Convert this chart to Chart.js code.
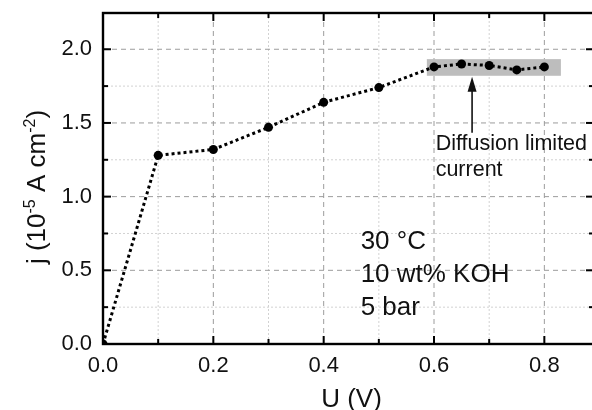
<!DOCTYPE html>
<html>
<head>
<meta charset="utf-8">
<script src="https://cdn.jsdelivr.net/npm/chart.js@4/dist/chart.umd.min.js"></script>
<style>
    html, body { margin: 0; padding: 0; background: #fff; overflow: hidden; }
    #wrap { width: 600px; height: 410px; position: relative; }
</style>
</head>
<body>
<div id="wrap"><canvas id="chart"></canvas></div>
<script>
// measured current density vs cell voltage
const voltages = [0, 0.1, 0.2, 0.3, 0.4, 0.5, 0.6, 0.65, 0.7, 0.75, 0.8]
const currents = [0, 1.28, 1.32, 1.47, 1.64, 1.74, 1.88, 1.90, 1.89, 1.86, 1.88]

const xTicks = [0, 0.2, 0.4, 0.6, 0.8]
const xMinor = [0.1, 0.3, 0.5, 0.7]
const yTicks = [0, 0.5, 1.0, 1.5, 2.0]
const yMinor = [0.25, 0.75, 1.25, 1.75]

const conditions = ['30 °C', '10 wt% KOH', '5 bar']
const noteLines = ['Diffusion limited', 'current']

const FONT = '"Liberation Sans", Arial, sans-serif'
const INK = '#111'

// plateau region highlighted by the grey band
const plateau = { x0: 0.587, x1: 0.83, y0: 1.82, y1: 1.933 }

function line(ctx, x1, y1, x2, y2) {
    ctx.beginPath()
    ctx.moveTo(x1, y1)
    ctx.lineTo(x2, y2)
    ctx.stroke()
}

const framePlugin = {
    id: 'frame',
    beforeDatasetsDraw(chart) {
        const { ctx, chartArea: a, scales: { x, y } } = chart
        ctx.save()
        ctx.lineWidth = 1
        // minor grid, light dotted
        ctx.strokeStyle = '#d2d2d2'
        ctx.setLineDash([2, 2])
        xMinor.forEach(v => line(ctx, x.getPixelForValue(v), a.top, x.getPixelForValue(v), a.bottom))
        yMinor.forEach(v => line(ctx, a.left, y.getPixelForValue(v), a.right, y.getPixelForValue(v)))
        // major grid, dashed
        ctx.strokeStyle = '#9c9c9c'
        ctx.setLineDash([5, 4])
        xTicks.slice(1).forEach(v => line(ctx, x.getPixelForValue(v), a.top, x.getPixelForValue(v), a.bottom))
        yTicks.slice(1).forEach(v => line(ctx, a.left, y.getPixelForValue(v), a.right, y.getPixelForValue(v)))
        ctx.setLineDash([])

        // grey band behind the plateau points
        const bx = x.getPixelForValue(plateau.x0)
        const by = y.getPixelForValue(plateau.y1)
        ctx.fillStyle = '#bdbdbd'
        ctx.fillRect(bx, by, x.getPixelForValue(plateau.x1) - bx, y.getPixelForValue(plateau.y0) - by)
        ctx.restore()
    },
    afterDatasetsDraw(chart) {
        const { ctx, chartArea: a, scales: { x, y } } = chart
        ctx.save()

        // arrow pointing at the band
        const ax = x.getPixelForValue(0.669)
        const tip = y.getPixelForValue(plateau.y0) + 1
        ctx.strokeStyle = INK
        ctx.fillStyle = INK
        ctx.lineWidth = 1.6
        line(ctx, ax, tip + 12, ax, y.getPixelForValue(1.433))
        ctx.beginPath()
        ctx.moveTo(ax, tip)
        ctx.lineTo(ax - 4.5, tip + 15)
        ctx.lineTo(ax + 4.5, tip + 15)
        ctx.closePath()
        ctx.fill()

        ctx.textAlign = 'left'
        ctx.textBaseline = 'alphabetic'
        ctx.font = '21.5px ' + FONT
        noteLines.forEach((t, i) => ctx.fillText(t, x.getPixelForValue(0.603), y.getPixelForValue(1.317) + i * 26))

        ctx.font = '26px ' + FONT
        conditions.forEach((t, i) => ctx.fillText(t, x.getPixelForValue(0.467), y.getPixelForValue(0.645) + i * 33))

        // box frame with inward ticks
        ctx.strokeStyle = '#000'
        ctx.lineWidth = 2.4
        ctx.strokeRect(a.left, a.top, a.right - a.left, a.bottom - a.top)
        ctx.lineWidth = 2
        xTicks.forEach(v => {
            const px = x.getPixelForValue(v)
            line(ctx, px, a.bottom, px, a.bottom - 8)
            line(ctx, px, a.top, px, a.top + 8)
        })
        xMinor.forEach(v => {
            const px = x.getPixelForValue(v)
            line(ctx, px, a.bottom, px, a.bottom - 5)
            line(ctx, px, a.top, px, a.top + 5)
        })
        yTicks.forEach(v => {
            const py = y.getPixelForValue(v)
            line(ctx, a.left, py, a.left + 8, py)
            line(ctx, a.right, py, a.right - 8, py)
        })
        yMinor.forEach(v => {
            const py = y.getPixelForValue(v)
            line(ctx, a.left, py, a.left + 5, py)
            line(ctx, a.right, py, a.right - 5, py)
        })

        // axis titles
        ctx.font = '26px ' + FONT
        ctx.textAlign = 'center'
        ctx.fillText('U (V)', (a.left + a.right) / 2 + 3, chart.height - 3)

        const parts = [
            ['j (10', 26, 0], ['-5', 16, -10], [' A cm', 26, 0], ['-2', 16, -10], [')', 26, 0]
        ]
        let total = 0
        parts.forEach(p => {
            ctx.font = p[1] + 'px ' + FONT
            total += ctx.measureText(p[0]).width
        })
        ctx.translate(45, 187)
        ctx.rotate(-Math.PI / 2)
        ctx.textAlign = 'left'
        let cx = -total / 2
        parts.forEach(p => {
            ctx.font = p[1] + 'px ' + FONT
            ctx.fillText(p[0], cx, p[2])
            cx += ctx.measureText(p[0]).width
        })
        ctx.restore()
    }
}

const ctx = document.getElementById('chart').getContext('2d')
new Chart(ctx, {
    type: 'line',
    data: {
        datasets: [{
            data: voltages.map((v, i) => ({ x: v, y: currents[i] })),
            borderColor: '#000',
            borderWidth: 3,
            borderDash: [3, 3],
            pointRadius: 4.5,
            pointBackgroundColor: '#000',
            pointBorderWidth: 0,
            tension: 0
        }]
    },
    options: {
        responsive: true,
        maintainAspectRatio: false,
        animation: false,
        layout: { padding: { top: 13, right: 6, left: 0, bottom: 0 } },
        plugins: {
            legend: { display: false },
            tooltip: { enabled: false }
        },
        scales: {
            x: {
                type: 'linear',
                min: 0,
                max: 0.89,
                grid: { display: false, drawTicks: false },
                border: { display: false },
                afterBuildTicks: scale => { scale.ticks = xTicks.map(v => ({ value: v })) },
                afterFit: scale => {
                    scale.height = 66
                    scale.paddingLeft = 0
                    scale.paddingRight = 0
                },
                ticks: {
                    padding: 9,
                    color: INK,
                    font: { family: FONT, size: 22 },
                    callback: v => v.toFixed(1)
                }
            },
            y: {
                min: 0,
                max: 2.246,
                grid: { display: false, drawTicks: false },
                border: { display: false },
                afterBuildTicks: scale => { scale.ticks = yTicks.map(v => ({ value: v })) },
                afterFit: scale => {
                    scale.width = 103
                    scale.paddingTop = 0
                    scale.paddingBottom = 0
                },
                ticks: {
                    padding: 11,
                    color: INK,
                    font: { family: FONT, size: 22 },
                    callback: v => v.toFixed(1)
                }
            }
        }
    },
    plugins: [framePlugin]
})
</script>
</body>
</html>
